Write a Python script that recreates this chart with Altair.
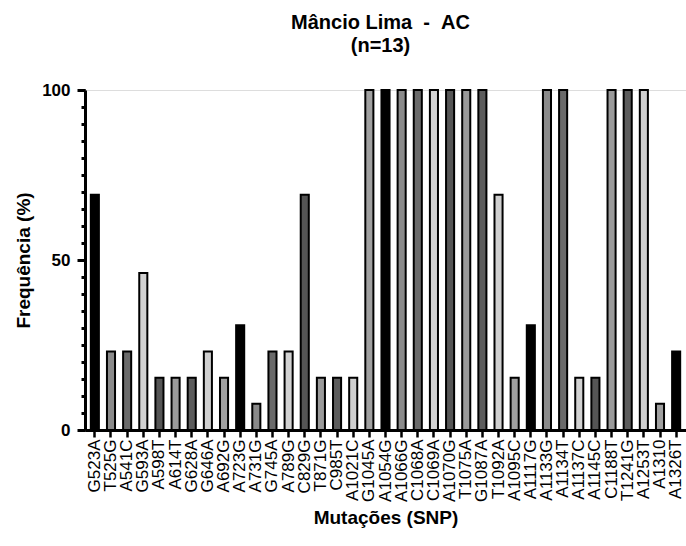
import altair as alt
import pandas as pd

mutations = ["G523A", "T525G", "A541C", "G593A", "A598T", "A614T", "G628A", "G646A",
             "A692G", "A723G", "A731G", "G745A", "A789G", "C829G", "T871G", "C985T",
             "A1021C", "G1045A", "A1054G", "A1066G", "C1068A", "C1069A", "A1070G",
             "T1075A", "G1087A", "T1092A", "A1095C", "A1117G", "A1133G", "A1134T",
             "A1137C", "A1145C", "C1188T", "T1241G", "A1253T", "A1310", "A1326T"]
frequency = [69.2, 23.1, 23.1, 46.2, 15.4, 15.4, 15.4, 23.1,
             15.4, 30.8, 7.7, 23.1, 23.1, 69.2, 15.4, 15.4,
             15.4, 100, 100, 100, 100, 100, 100,
             100, 100, 69.2, 15.4, 30.8, 100, 100,
             15.4, 15.4, 100, 100, 100, 7.7, 23.1]
palette = ["#000000", "#8a8a8a", "#6a6a6a", "#d2d2d2", "#555555",
           "#9a9a9a", "#5c5c5c", "#cfcfcf", "#a0a0a0"]
major_ticks = [0, 50, 100]
minor_ticks = list(range(0, 101, 5))
title_lines = ["Mâncio Lima\u00a0\u00a0-\u00a0\u00a0AC", "(n=13)"]

df = pd.DataFrame({"mut": mutations, "freq": frequency})
colors = [palette[i % len(palette)] for i in range(len(mutations))]

FONT = "Liberation Sans"

xenc = alt.X("mut:N", sort=mutations,
             scale=alt.Scale(paddingInner=0.5, paddingOuter=0.36),
             axis=alt.Axis(title="Mutações (SNP)", labelAngle=-90, labelFontSize=17,
                           labelFont=FONT, labelColor="black", labelPadding=2,
                           labelFontWeight=500,
                           tickSize=7, tickWidth=2.5, tickColor="black",
                           domainWidth=3, domainColor="black",
                           titleFont=FONT, titleFontSize=19, titleFontWeight="bold",
                           titleColor="black", titlePadding=7))

bars = alt.Chart(df).mark_bar(stroke="black", strokeWidth=2).encode(
    x=xenc,
    y=alt.Y("freq:Q", scale=alt.Scale(domain=[0, 100], nice=False),
            axis=alt.Axis(values=major_ticks, title="Frequência (%)", orient="left",
                          labelFont=FONT, labelFontSize=17, labelFontWeight="bold",
                          labelColor="black", labelPadding=7,
                          tickSize=8, tickWidth=3, tickColor="black",
                          domainWidth=3, domainColor="black", grid=False,
                          titleFont=FONT, titleFontSize=19, titleFontWeight="bold",
                          titleColor="black", titlePadding=8)),
    color=alt.Color("mut:N", scale=alt.Scale(domain=mutations, range=colors), legend=None),
)

minor = alt.Chart(df).mark_bar(opacity=0).encode(
    x=alt.X("mut:N", sort=mutations),
    y=alt.Y("freq:Q",
            axis=alt.Axis(values=minor_ticks, labels=False, title=None, orient="left",
                          domain=False, tickSize=4, tickWidth=3, tickColor="black",
                          grid=False)),
)

chart = alt.layer(minor, bars).resolve_axis(y="independent").properties(
    width=601, height=340,
    title=alt.TitleParams(title_lines, font=FONT, fontSize=20,
                          fontWeight="bold", color="black", anchor="middle",
                          lineHeight=23, offset=25, dx=-5),
    autosize=alt.AutoSizeParams(type="none"),
    padding={"left": 85, "top": 90, "right": 0, "bottom": 116},
).configure_view(stroke=None).configure(background="white")

chart.save("out.html", embed_options={"renderer": "svg", "actions": False})
